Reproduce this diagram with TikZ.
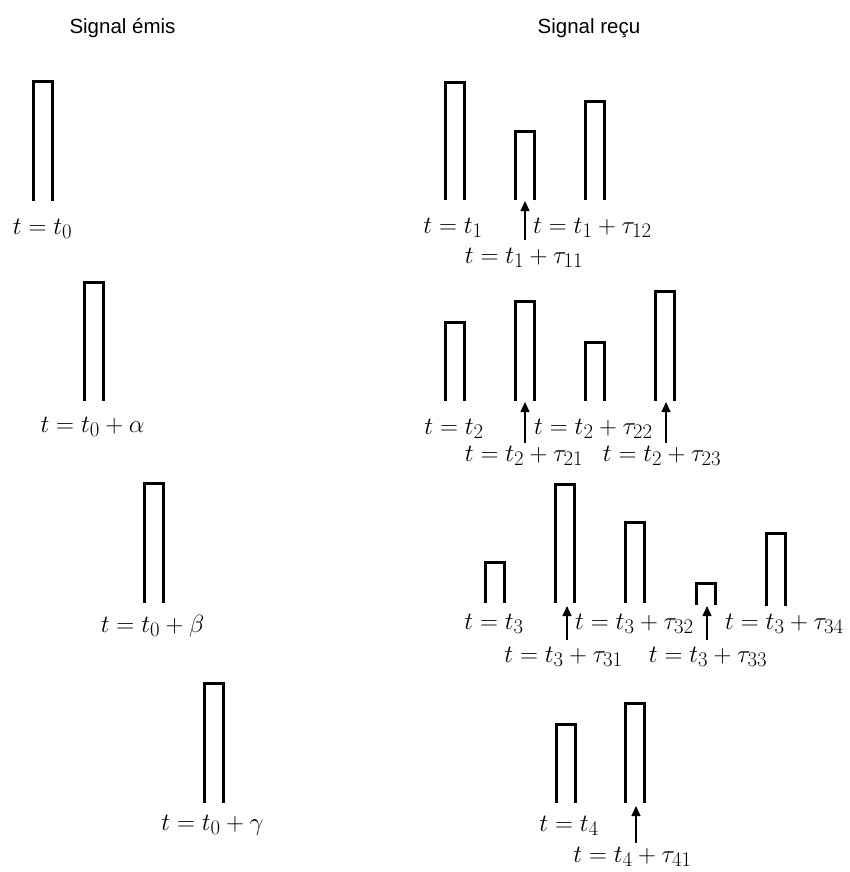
\documentclass[tikz,border=0pt]{standalone}
\usepackage{fontspec}
\newfontfamily\titlefont{Liberation Sans}
\usetikzlibrary{arrows.meta}
\tikzset{
  pulse/.style={line width=3pt, line join=miter, line cap=butt},
  marker/.style={line width=1.3pt, -{Triangle[width=9pt,length=10pt]}},
  lbl/.style={inner sep=0pt, anchor=base, font=\fontsize{24.88}{30}\selectfont},
  lbll/.style={lbl, anchor=base west},
  title/.style={inner sep=0pt, anchor=base, font=\titlefont\fontsize{20.5}{24}\selectfont},
}
\newcommand\pulsebox[3]{\draw[pulse] (#1-9.5,#3) -- (#1-9.5,#2) -- (#1+9.5,#2) -- (#1+9.5,#3);}
\begin{document}
\begin{tikzpicture}[x=1pt,y=-1pt]
\useasboundingbox (0,0) rectangle (850,872);
% titles
\node[title] (temis) at (122.5,34) {Signal émis};
\node[title] (trecu) at (589,34) {Signal reçu};
% emitted pulses
\pulsebox{43}{81.5}{201}
\pulsebox{93.5}{282.5}{401}
\pulsebox{154}{483.5}{603}
\pulsebox{213.5}{683.5}{803}
\node[lbl] (e0) at (42.5,234) {$t = t_0$};
\node[lbl] (e1) at (92.5,432) {$t = t_0 + \alpha$};
\node[lbl] (e2) at (152.5,632) {$t = t_0 + \beta$};
\node[lbl] (e3) at (212.5,830) {$t = t_0 + \gamma$};
% row 1
\pulsebox{454.5}{82.5}{200}
\pulsebox{524.5}{131.5}{200}
\pulsebox{594.5}{101.5}{200}
\coordinate (a1s) at (525,240);
\coordinate (a1e) at (525,201);
\draw[marker] (a1s) -- (a1e);
\node[lbl] (r1a) at (453,233) {$t = t_1$};
\node[lbll] (r1b) at (533,233) {$t = t_1 + \tau_{12}$};
\node[lbl] (r1c) at (524,263) {$t = t_1 + \tau_{11}$};
% row 2
\pulsebox{454.5}{322.5}{401}
\pulsebox{524.5}{301.5}{401}
\pulsebox{594.5}{342.5}{401}
\pulsebox{665}{291.5}{401}
\coordinate (a2s) at (525,443);
\coordinate (a2e) at (525,402);
\coordinate (a3s) at (666,443);
\coordinate (a3e) at (666,402);
\draw[marker] (a2s) -- (a2e);
\draw[marker] (a3s) -- (a3e);
\node[lbl] (r2a) at (454,434) {$t = t_2$};
\node[lbll] (r2b) at (534,434) {$t = t_2 + \tau_{22}$};
\node[lbl] (r2c) at (524,461) {$t = t_2 + \tau_{21}$};
\node[lbl] (r2d) at (662,461) {$t = t_2 + \tau_{23}$};
% row 3
\pulsebox{495}{562.5}{603}
\pulsebox{565}{484.5}{603}
\pulsebox{635}{522.5}{603}
\pulsebox{705.5}{583.5}{605}
\pulsebox{775.5}{533.5}{606}
\coordinate (a4s) at (567,640);
\coordinate (a4e) at (567,606);
\coordinate (a5s) at (707,640);
\coordinate (a5e) at (707,606);
\draw[marker] (a4s) -- (a4e);
\draw[marker] (a5s) -- (a5e);
\node[lbl] (r3a) at (494,629) {$t = t_3$};
\node[lbll] (r3b) at (575,629) {$t = t_3 + \tau_{32}$};
\node[lbll] (r3c) at (725,629) {$t = t_3 + \tau_{34}$};
\node[lbl] (r3d) at (563.5,662) {$t = t_3 + \tau_{31}$};
\node[lbl] (r3e) at (708,662) {$t = t_3 + \tau_{33}$};
% row 4
\pulsebox{565.5}{724.5}{803}
\pulsebox{635}{703.5}{803}
\coordinate (a6s) at (636,843);
\coordinate (a6e) at (636,806);
\draw[marker] (a6s) -- (a6e);
\node[lbl] (r4a) at (569,831) {$t = t_4$};
\node[lbl] (r4b) at (632.5,862) {$t = t_4 + \tau_{41}$};
\end{tikzpicture}
\end{document}
